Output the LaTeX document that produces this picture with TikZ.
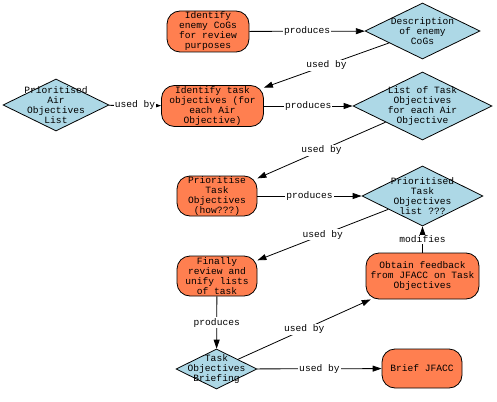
\documentclass[tikz,border=0pt]{standalone}
\usepackage{fontspec}
\usepackage{xcolor}
\usetikzlibrary{arrows.meta,shapes.geometric}
\newfontfamily\chartfont{Liberation Mono}
\definecolor{taskfill}{RGB}{255,127,80}
\definecolor{itemfill}{RGB}{173,216,230}

\begin{document}
\begin{tikzpicture}[
    x=1pt, y=-1pt,
    font=\chartfont\fontsize{9.6}{10}\selectfont,
    task/.style={draw, line width=0.8pt, rounded corners=13pt, align=center,
                 fill=taskfill, inner sep=0pt},
    item/.style={draw, line width=0.8pt, diamond, fill=itemfill,
                 inner sep=0pt},
    itxt/.style={align=center, inner sep=0pt},
    arr/.style={-{Triangle[length=9pt,width=6pt]}, line width=0.8pt},
    lbl/.style={fill=white, inner sep=1pt},
]
\useasboundingbox (0,0) rectangle (497,401);

%% ── Node placement ──────────────────────────────────────────────────────────
\node[task, minimum width=82pt, minimum height=41pt] (cogs) at (208,31.5)
    {Identify\\enemy CoGs\\for review\\purposes};
\node[item, minimum width=115pt, minimum height=56pt] (cogsdesc) at (422.5,31)
    [label={[itxt]center:{Description\\of enemy\\CoGs}}] {};
\node[item, minimum width=106pt, minimum height=52pt] (airlist) at (56,105)
    [label={[itxt]center:{Prioritised\\Air\\Objectives\\List}}] {};
\node[task, minimum width=102pt, minimum height=41pt] (idtask) at (212.5,106)
    {Identify task\\objectives (for\\each Air\\Objective)};
\node[item, minimum width=139pt, minimum height=68pt] (tasklist) at (422.5,106)
    [label={[itxt]center:{List of Task\\Objectives\\for each Air\\Objective}}] {};
\node[task, minimum width=80pt, minimum height=40pt] (prio) at (217,196)
    {Prioritise\\Task\\Objectives\\(how???)};
\node[item, minimum width=121pt, minimum height=60pt] (priolist) at (422.5,196)
    [label={[itxt]center:{Prioritised\\Task\\Objectives\\list ???}}] {};
\node[task, minimum width=80pt, minimum height=40pt] (unify) at (217,276)
    {Finally\\review and\\unify lists\\of task};
\node[task, minimum width=113pt, minimum height=46pt] (feedback) at (422.5,276)
    {Obtain feedback\\from JFACC on Task\\Objectives};
\node[item, minimum width=81pt, minimum height=40pt] (briefing) at (216.5,369)
    [label={[itxt]center:{Task\\Objectives\\Briefing}}] {};
\node[task, minimum width=80pt, minimum height=39pt] (brief) at (422,368.5)
    {Brief JFACC};

%% ── Connectors ──────────────────────────────────────────────────────────────
\draw[arr] (cogs) -- node[lbl] {produces} (cogsdesc);
\draw[arr] (cogsdesc) -- node[lbl] {used by} (idtask);
\draw[arr] (airlist) -- node[lbl] {used by} (idtask);
\draw[arr] (idtask) -- node[lbl] {produces} (tasklist);
\draw[arr] (tasklist) -- node[lbl] {used by} (prio);
\draw[arr] (prio) -- node[lbl] {produces} (priolist);
\draw[arr] (priolist) -- node[lbl] {used by} (unify);
\draw[arr] (feedback) -- node[lbl] {modifies} (priolist);
\draw[arr] (unify) -- node[lbl] {produces} (briefing);
\draw[arr] (briefing) -- node[lbl] {used by} (feedback);
\draw[arr] (briefing) -- node[lbl] {used by} (brief);

\end{tikzpicture}
\end{document}
